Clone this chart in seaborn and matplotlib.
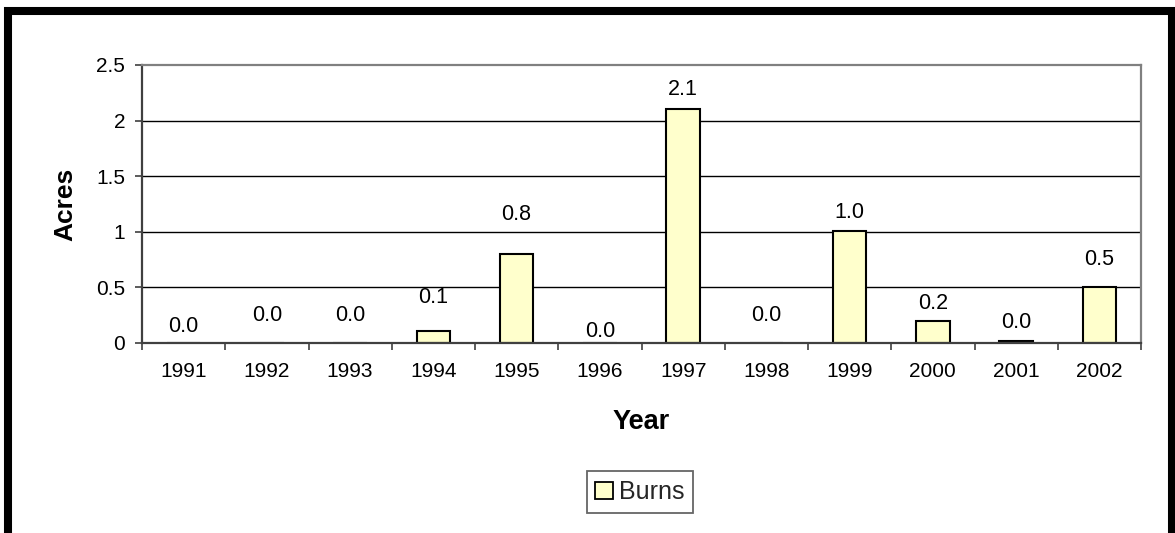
import matplotlib
matplotlib.use("Agg")
import matplotlib.pyplot as plt
import matplotlib.patches as mpatches
from matplotlib.ticker import FixedLocator, NullFormatter
import seaborn as sns
import pandas as pd

# Burned area per year
years = ["1991", "1992", "1993", "1994", "1995", "1996",
         "1997", "1998", "1999", "2000", "2001", "2002"]
acres = [0.0, 0.0, 0.0, 0.11, 0.80, 0.0, 2.10, 0.0, 1.01, 0.20, 0.02, 0.50]
series_name = "Burns"
y_ticks = [0, 0.5, 1, 1.5, 2, 2.5]

# vertical nudge of each value label above its bar (points)
label_nudge = [12, 19.5, 19.5, 24, 28.5, 8.5, 14.5, 19.5, 13, 12.5, 13.5, 20]

sns.set_theme(style="white")
plt.rcParams["font.family"] = ["Liberation Sans", "DejaVu Sans"]

W, H = 1175, 533
fig = plt.figure(figsize=(W / 100, H / 100), dpi=100)
fig.patch.set_facecolor("white")
ax = fig.add_axes([142 / W, 1 - 343 / H, (1141 - 142) / W, (343 - 65) / H])

df = pd.DataFrame({"Year": years, "Acres": acres, "series": series_name})
sns.barplot(data=df, x="Year", y="Acres", hue="series", palette=["#FFFFCC"],
            width=0.4, edgecolor="black", linewidth=1.5, ax=ax, legend=True,
            saturation=1)

ax.set_xlim(-0.5, len(years) - 0.5)
ax.set_ylim(0, 2.5)
ax.set_yticks(y_ticks)
ax.set_yticklabels([f"{v:g}" for v in y_ticks])

# horizontal gridlines
for v in y_ticks[1:-1]:
    ax.axhline(v, color="black", lw=1.0, zorder=0.5)
ax.set_axisbelow(True)

# spines
ax.spines["left"].set_color("#404040")
ax.spines["bottom"].set_color("#404040")
ax.spines["top"].set_color("#808080")
ax.spines["right"].set_color("#808080")
for s in ax.spines.values():
    s.set_linewidth(1.6)
    s.set_visible(True)

# ticks: labels at category centres, marks at category boundaries
ax.tick_params(axis="x", which="major", length=0, pad=13.5, labelsize=15,
               colors="black")
ax.xaxis.set_minor_locator(FixedLocator([i - 0.5 for i in range(len(years) + 1)]))
ax.xaxis.set_minor_formatter(NullFormatter())
ax.tick_params(axis="x", which="minor", bottom=True, length=5, width=1.2,
               color="#404040")
ax.tick_params(axis="y", left=True, length=5, width=1.2, color="#404040",
               pad=7, labelsize=15, labelcolor="black")

# value labels
for i, (v, dy) in enumerate(zip(acres, label_nudge)):
    ax.annotate(f"{v:.1f}", xy=(i, v), xytext=(0, dy), textcoords="offset points",
                ha="center", va="center", fontsize=15.5, color="black")

ax.set_xlabel("Year", fontsize=19.5, fontweight="bold", color="black")
ax.set_ylabel("Acres", fontsize=19, fontweight="bold", color="black")
ax.yaxis.label.set_va("center")
ax.yaxis.set_label_coords((65.5 - 142) / 999, 0.5)
ax.xaxis.label.set_va("center")
ax.xaxis.set_label_coords(0.5, -(422 - 343) / 278)

# legend below the plot
handles, labels = ax.get_legend_handles_labels()
leg = ax.legend(handles, labels, loc="center",
                bbox_to_anchor=(640 / W, 1 - 492 / H),
                bbox_transform=fig.transFigure,
                fontsize=18, frameon=True, fancybox=False, shadow=False,
                handlelength=0.7, handleheight=0.7, handletextpad=0.25,
                borderpad=0.35, borderaxespad=0)
leg.get_frame().set_edgecolor("#404040")
leg.get_frame().set_linewidth(1.3)
for h in leg.legend_handles:
    h.set_edgecolor("black")
    h.set_linewidth(1.3)

# outer frame around the chart
frame = mpatches.Rectangle((8 / W, -0.1), (1171.5 - 8) / W, 1.1 - 11 / H,
                           transform=fig.transFigure, fill=False,
                           edgecolor="black", linewidth=5.8, zorder=10)
fig.add_artist(frame)

fig.savefig("out.png", dpi=100, facecolor="white")
